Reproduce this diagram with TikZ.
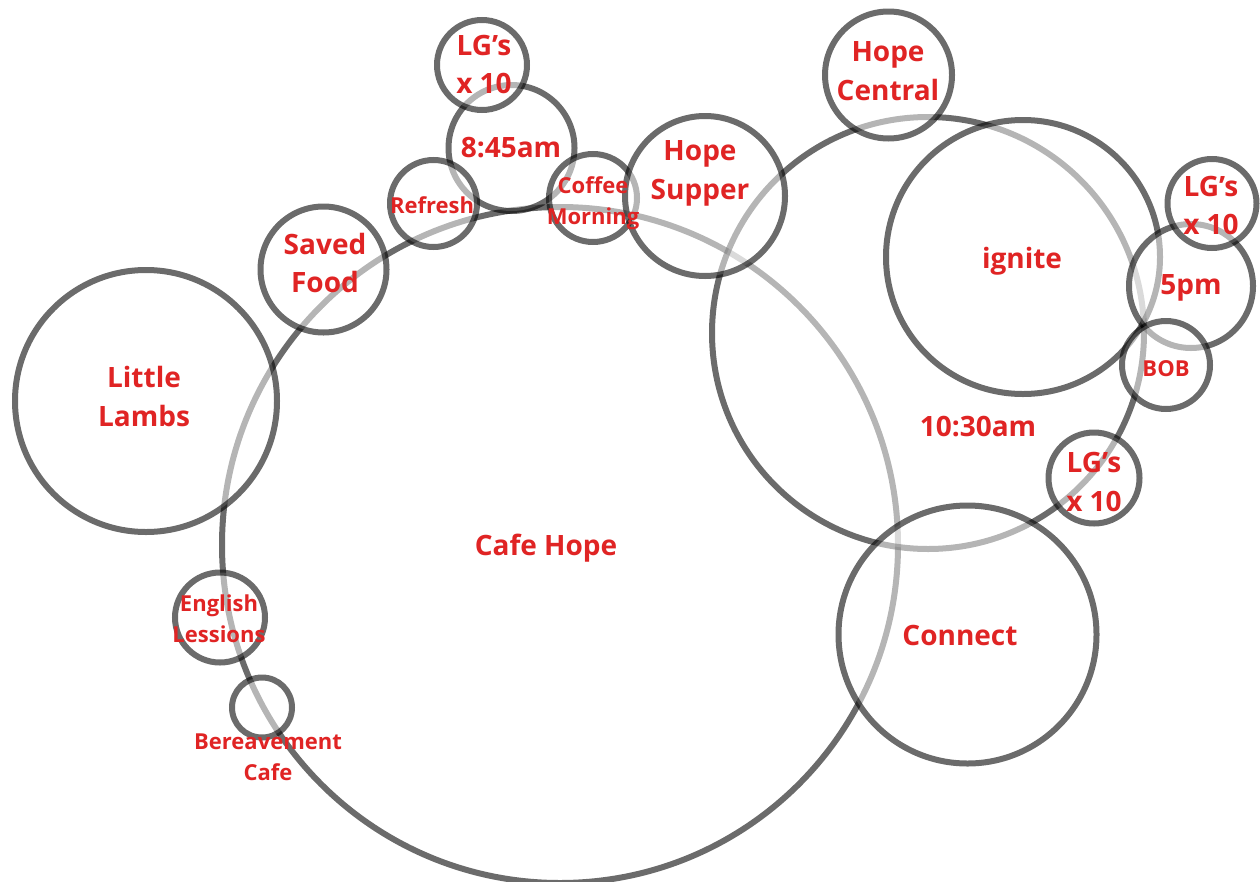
\documentclass[tikz,border=0pt]{standalone}
\usepackage{fontspec}
\setmainfont{Open Sans}
\definecolor{lbl}{RGB}{224,36,36}
\begin{document}
\begin{tikzpicture}[x=1pt,y=-1pt,
  ring/.style={circle, draw=black, draw opacity=0.58, fill=white, fill opacity=0.5, line width=6pt, inner sep=0pt, outer sep=0pt},
  big/.style={text=lbl, font=\fontsize{28}{38.5}\selectfont\bfseries, align=center, inner sep=0pt},
  small/.style={text=lbl, font=\fontsize{22}{31}\selectfont\bfseries, align=center, inner sep=0pt}]
\useasboundingbox (0,0) rectangle (1260,881);
\fill[white] (0,0) rectangle (1260,881);
% circles, bottom to top
\node[ring, minimum size=676pt] (cafe) at (560,545) {};
\node[ring, minimum size=432pt] (t1030) at (928,333) {};
\node[ring, minimum size=262pt] (lambs) at (146,401) {};
\node[ring, minimum size=126pt] (saved) at (323.5,269.5) {};
\node[ring, minimum size=90pt] (english) at (220,617.5) {};
\node[ring, minimum size=60pt] (bereave) at (262,707.5) {};
\node[ring, minimum size=258pt] (connect) at (967.5,634.5) {};
\node[ring, minimum size=91pt] (lgb) at (1094,478) {};
\node[ring, minimum size=127pt] (central) at (888.5,75) {};
\node[ring, minimum size=274pt] (ignite) at (1023,257) {};
\node[ring, minimum size=124pt] (fivepm) at (1191,286) {};
\node[ring, minimum size=89pt] (lgr) at (1212,203.5) {};
\node[ring, minimum size=88pt] (bob) at (1166,365) {};
\node[ring, minimum size=126pt] (m845) at (511.5,148) {};
\node[ring, minimum size=87pt] (refresh) at (433.5,203.5) {};
\node[ring, minimum size=90pt] (lgt) at (482,65) {};
\node[ring, minimum size=88pt] (coffee) at (593,198) {};
\node[ring, minimum size=160pt] (supper) at (705,196) {};
% labels
\node[big] (lgt-t) at (484,64.5) {LG’s\\x 10};
\node[big] (m845-t) at (511,148) {8:45am};
\node[small] (refresh-t) at (432,205) {Refresh};
\node[small] (coffee-t) at (593,203) {Coffee\\Morning};
\node[big] (supper-t) at (700,173.5) {Hope\\Supper};
\node[big] (central-t) at (888,71) {Hope\\Central};
\node[big] (ignite-t) at (1022,261) {ignite};
\node[big] (lgr-t) at (1211,205.5) {LG’s\\x 10};
\node[big] (fivepm-t) at (1191,288) {5pm};
\node[small] (bob-t) at (1166,369) {BOB};
\node[big] (t1030-t) at (978,427) {10:30am};
\node[big] (lgb-t) at (1094,482) {LG’s\\x 10};
\node[big] (connect-t) at (960,635) {Connect};
\node[big] (cafe-t) at (546,548) {Cafe Hope};
\node[big] (lambs-t) at (144,396.5) {Little\\Lambs};
\node[big] (saved-t) at (325,263) {Saved\\Food};
\node[small] (english-t) at (219,618.5) {English\\Lessions};
\node[small] (bereave-t) at (268,757.5) {Bereavement\\Cafe};
\end{tikzpicture}
\end{document}
